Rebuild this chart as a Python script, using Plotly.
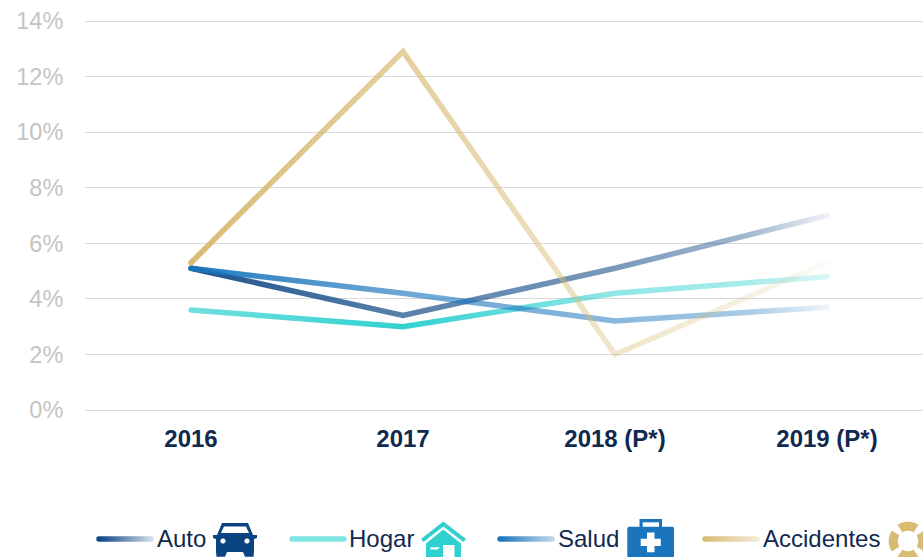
import json
import numpy as np
import plotly.graph_objects as go

years = ["2016", "2017", "2018 (P*)", "2019 (P*)"]
auto = [5.1, 3.4, 5.1, 7.0]
hogar = [3.6, 3.0, 4.2, 4.8]
salud = [5.1, 4.2, 3.2, 3.7]
accidentes = [5.3, 12.9, 2.0, 5.3]
names = ["Auto", "Hogar", "Salud", "Accidentes"]
values = [auto, hogar, salud, accidentes]
colors = ["#0b4483", "#2ed0d0", "#1a75bd", "#d8bc74"]
y_ticks = [0, 2, 4, 6, 8, 10, 12, 14]
y_tick_labels = ["0%", "2%", "4%", "6%", "8%", "10%", "12%", "14%"]
# opacity of each line along its width (the reference lines fade to the right)
fade_stops = [0, 1 / 3, 2 / 3, 0.877, 1]
fades = [
    [0.92, 0.68, 0.55, 0.38, 0.07],
    [0.68, 0.98, 0.52, 0.42, 0.18],
    [0.95, 0.64, 0.52, 0.38, 0.08],
    [1.00, 0.70, 0.38, 0.22, 0.06],
]
legend_stops = [0, 1]
legend_fade = [[1.0, 0.2], [0.6, 0.6], [1.0, 0.3], [1.0, 0.3]]
legend_line_x = [(99, 151), (292, 344), (500, 552), (705, 757)]
legend_text_x = [155, 347, 556, 761]

W, H = 923, 557
L, T0, B0 = 85, 21, 410   # pixel rows of the 14% and 0% gridlines
PAD = 2                    # extra plot height so both end gridlines are kept
T, B = T0 - PAD, B0 + PAD
UNIT = (B0 - T0) / 14
NAVY = "#10294f"
FONT = "Liberation Sans"


def px(x):
    return (x - L) / (W - L)


def py(y):
    return (B - y) / (B - T)


def path(points):
    return "M" + "L".join(f"{px(x):.5f},{py(y):.5f}" for x, y in points) + "Z"


def shape(points, color):
    return dict(type="path", xref="paper", yref="paper", path=path(points),
                fillcolor=color, line_width=0, layer="above")


def circle(cx, cy, r, color):
    t = np.linspace(0, 2 * np.pi, 25)[:-1]
    return shape(list(zip(cx + r * np.cos(t), cy + r * np.sin(t))), color)


fig = go.Figure()
for name, val, col in zip(names, values, colors):
    fig.add_trace(go.Scatter(x=years, y=val, mode="lines", name=name, showlegend=False,
                             line=dict(color=col, width=5.5), hoverinfo="skip"))

shapes = []
for (x0, x1), col in zip(legend_line_x, colors):
    shapes.append(dict(type="line", xref="paper", yref="paper", x0=px(x0), x1=px(x1),
                       y0=py(539), y1=py(539), line=dict(color=col, width=5.5), layer="above"))

# Car icon
CAR = colors[0]
shapes += [
    shape([(222, 523), (248, 523), (253, 535), (257, 535), (257, 538), (254, 539), (254, 552),
           (253.5, 556.7), (245, 556.7), (243, 552), (227, 552), (225, 556.7), (216.5, 556.7),
           (216, 552), (216, 539), (213, 538), (213, 535), (217, 535)], CAR),
    shape([(224, 526.5), (246, 526.5), (249, 533), (221, 533)], "white"),
    circle(223, 541, 2.6, "white"),
    circle(247, 541, 2.6, "white"),
]
# House icon
HOUSE = colors[1]
shapes += [
    shape([(443.3, 521.5), (466, 539), (463.5, 542), (443.3, 526.5), (423.5, 542), (421, 539)], HOUSE),
    shape([(443.3, 529.5), (461, 543.5), (461, 557), (426, 557), (426, 543.5)], HOUSE),
    shape([(443, 545), (454.5, 545), (454.5, 557), (443, 557)], "white"),
    shape([(430.5, 547.3), (440, 547.3), (437.5, 549.5), (430.5, 549.5)], "white"),
]
# First aid kit icon
KIT = colors[2]
shapes += [
    shape([(639.5, 519), (662, 519), (662, 527), (639.5, 527)], KIT),
    shape([(642.7, 522.3), (659, 522.3), (659, 527), (642.7, 527)], "white"),
    shape([(628.5, 526.7), (673, 526.7), (674, 528), (674, 557), (627.3, 557), (627.3, 528)], KIT),
    shape([(647, 532.5), (654.5, 532.5), (654.5, 538.7), (660.8, 538.7), (660.8, 546), (654.5, 546),
           (654.5, 552.3), (647, 552.3), (647, 546), (640.7, 546), (640.7, 538.7), (647, 538.7)], "white"),
]
# Lifebuoy icon
for a in (0, 90, 180, 270):
    t = np.radians(np.linspace(a - 33, a + 33, 14))
    cx, cy, ro, ri = 908, 541, 19.3, 10.2
    outer = list(zip(cx + ro * np.cos(t), cy + ro * np.sin(t)))
    inner = list(zip(cx + ri * np.cos(t[::-1]), cy + ri * np.sin(t[::-1])))
    shapes.append(shape(outer + inner, colors[3]))

annotations = [dict(text=n, xref="paper", yref="paper", x=px(x), y=py(538.5), xanchor="left",
                    yanchor="middle", showarrow=False, font=dict(family=FONT, size=24, color=NAVY))
               for n, x in zip(names, legend_text_x)]

fig.update_layout(
    width=W, height=H, autosize=False,
    margin=dict(l=L, r=0, t=T, b=H - B, pad=0),
    paper_bgcolor="white", plot_bgcolor="white", showlegend=False,
    font=dict(family=FONT),
    shapes=shapes, annotations=annotations,
    xaxis=dict(type="category", categoryorder="array", categoryarray=years,
               range=[-0.5, 3.453], showgrid=False, zeroline=False, showline=False,
               ticks="outside", ticklen=5, tickcolor="rgba(0,0,0,0)",
               tickfont=dict(family=FONT, size=24, color=NAVY, weight="bold")),
    yaxis=dict(range=[-PAD / UNIT, 14 + PAD / UNIT], tickvals=y_ticks, ticktext=y_tick_labels,
               showgrid=True, gridcolor="#dadada",
               gridwidth=1.2, zeroline=False, showline=False,
               ticks="outside", ticklen=16, tickcolor="rgba(0,0,0,0)",
               tickfont=dict(family=FONT, size=23.5, color="#c4c4c4")),
)

post = """
document.body.style.margin = '0';
var colors = %s, fades = %s, fadeStops = %s, legendFade = %s, legendStops = %s;
var root = document.querySelector('.plotly-graph-div');
var svg = root.querySelector('svg.main-svg');
var NS = 'http://www.w3.org/2000/svg';
var defs = document.createElementNS(NS, 'defs');
svg.insertBefore(defs, svg.firstChild);
function paint(el, id, color, stops, alphas) {
  var b = el.getBBox();
  var g = document.createElementNS(NS, 'linearGradient');
  g.setAttribute('id', id);
  g.setAttribute('gradientUnits', 'userSpaceOnUse');
  g.setAttribute('x1', b.x); g.setAttribute('x2', b.x + b.width);
  g.setAttribute('y1', 0); g.setAttribute('y2', 0);
  alphas.forEach(function (a, i) {
    var s = document.createElementNS(NS, 'stop');
    s.setAttribute('offset', stops[i]);
    s.setAttribute('stop-color', color);
    s.setAttribute('stop-opacity', a);
    g.appendChild(s);
  });
  defs.appendChild(g);
  el.style.stroke = 'url(#' + id + ')';
  el.style.strokeLinecap = 'round';
  el.style.strokeLinejoin = 'miter';
  el.style.strokeOpacity = 1;
}
root.querySelectorAll('.scatterlayer .trace path.js-line').forEach(function (el, i) {
  paint(el, 'lineGrad' + i, colors[i], fadeStops, fades[i]);
});
colors.forEach(function (c, i) {
  var el = root.querySelector('.layer-above .shapelayer path[data-index="' + i + '"]') ||
           root.querySelector('.shapelayer path[data-index="' + i + '"]');
  if (el) paint(el, 'legendGrad' + i, c, legendStops, legendFade[i]);
});
""" % (json.dumps(colors), json.dumps(fades), json.dumps(fade_stops),
       json.dumps(legend_fade), json.dumps(legend_stops))

fig.write_html("out.html", post_script=post, config={"displayModeBar": False})
